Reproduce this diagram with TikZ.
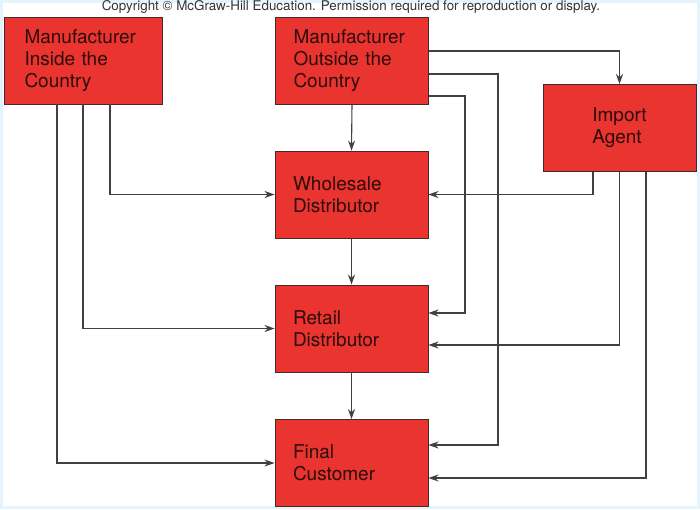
\documentclass[tikz,border=0pt]{standalone}
\usepackage{fontspec}
\setmainfont{TeX Gyre Heros}
\usetikzlibrary{arrows.meta}
\definecolor{bgblue}{RGB}{229,244,252}
\definecolor{boxred}{RGB}{233,52,47}
\definecolor{boxedge}{RGB}{70,40,40}
\definecolor{boxtext}{RGB}{45,12,12}
\definecolor{linegray}{RGB}{64,64,64}
\tikzset{
  chainbox/.style={draw=boxedge,line width=0.9pt,fill=boxred,text=boxtext,
    text width=117pt,inner xsep=18pt,inner ysep=0pt,minimum height=87pt,
    align=left,font=\fontsize{19}{22}\selectfont},
  flow/.style={draw=linegray,line width=1.1pt,-{Stealth[length=10pt,width=7pt]}}
}

\begin{document}
\begin{tikzpicture}[x=1pt,y=-1pt,>=Stealth]
        % frame
        \useasboundingbox (0,0) rectangle (700,509);
        \fill[bgblue] (0,0) rectangle (700,509);
        \fill[white] (3,3) rectangle (697,506);
        \node[text=black!80,font=\fontsize{13.4}{15}\selectfont] (copy) at (351,7) {Copyright \textcopyright{} McGraw-Hill Education. Permission required for reproduction or display.};
        % boxes
        \node[chainbox,minimum width=158pt] (inside) at (83,60.5) {Manufacturer\\Inside the\\Country};
        \node[chainbox] (outside) at (352,60.5) {Manufacturer\\Outside the\\Country};
        \node[chainbox,text width=,minimum width=153pt] (agent) at (619.5,128) {Import\\Agent};
        \node[chainbox] (whole) at (351.5,194.5) {Wholesale\\Distributor};
        \node[chainbox] (retail) at (351.5,328.5) {Retail\\Distributor};
        \node[chainbox] (final) at (351.5,463) {Final\\Customer};
        % from the inside manufacturer
        \draw[flow] ([xshift=27pt]inside.south) |- (whole.west);
        \draw[flow] (inside.south) |- (retail.west);
        \draw[flow] ([xshift=-26pt]inside.south) |- (final.west);
        % from the outside manufacturer
        \draw[flow] (outside.south) -- (whole.north);
        \draw[flow] ([yshift=9.5pt]outside.east) -| (agent.north);
        \draw[flow] ([yshift=-13.5pt]outside.east) -- ++(69,0) |- ([yshift=18pt]final.east);
        \draw[flow] ([yshift=-35.5pt]outside.east) -- ++(36,0) |- ([yshift=15.5pt]retail.east);
        % from the import agent
        \draw[flow] ([xshift=-26.5pt]agent.south) |- (whole.east);
        \draw[flow] (agent.south) |- ([yshift=-16.5pt]retail.east);
        \draw[flow] ([xshift=26.5pt]agent.south) |- ([yshift=-15pt]final.east);
        % down the chain
        \draw[flow] (whole.south) -- (retail.north);
        \draw[flow] (retail.south) -- (final.north);
    \end{tikzpicture}
\end{document}
